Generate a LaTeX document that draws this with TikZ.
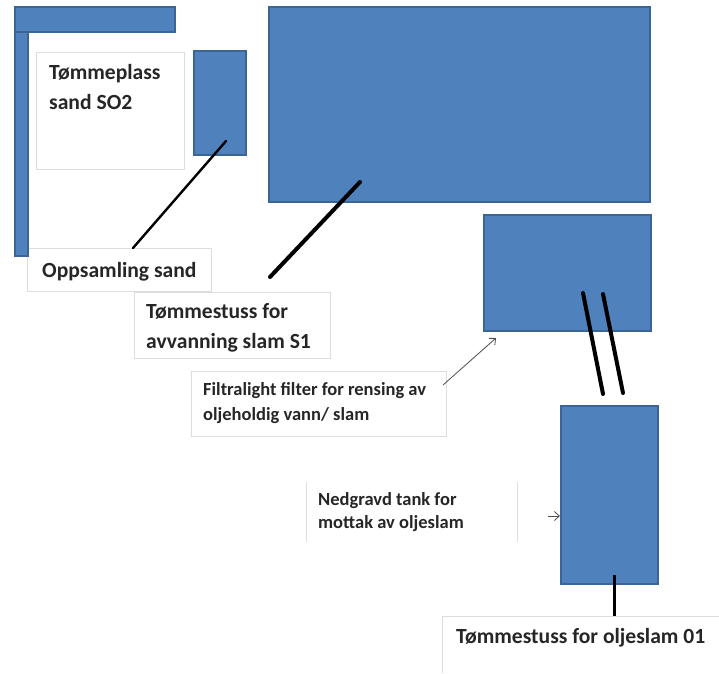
\documentclass[tikz,border=0pt]{standalone}
\usepackage{fontspec}
\setmainfont{Carlito}
\usetikzlibrary{arrows.meta}
\definecolor{boxblue}{HTML}{4F81BD}
\definecolor{boxedge}{HTML}{3A6596}
\definecolor{lbledge}{HTML}{DDDDDD}
\begin{document}
\begin{tikzpicture}[x=1pt,y=-1pt,
  bluebox/.style={draw=boxedge,fill=boxblue,line width=1.6pt,inner sep=0pt,outer sep=0pt,anchor=north west},
  lblbox/.style={draw=lbledge,line width=0.6pt,inner sep=0pt,outer sep=0pt,anchor=north west},
  bigtxt/.style={anchor=base west,inner sep=0pt,font=\bfseries\fontsize{21.6}{30}\selectfont,text=black!85},
  smalltxt/.style={anchor=base west,inner sep=0pt,font=\bfseries\fontsize{18.5}{23}\selectfont,text=black!85},
  pipe/.style={line width=#1,line cap=round,black},
  thinarrow/.style={draw=black!70,line width=0.8pt,-{Straight Barb[length=5pt,width=9pt]}}
]
\useasboundingbox (0,0) rectangle (719,673);
% label boxes
\node[lblbox,minimum width=148pt,minimum height=117pt] (bsand) at (36,52) {};
\node[lblbox,minimum width=184pt,minimum height=43pt] (bopps) at (27,248) {};
\node[lblbox,minimum width=196pt,minimum height=66pt] (bavv) at (134,292) {};
\node[lblbox,minimum width=255pt,minimum height=65pt] (bfilt) at (191,371) {};
\draw[lbledge,line width=0.6pt] (306,482) -- (306,542) (517,482) -- (517,542);
\draw[lbledge,line width=0.6pt] (442,673) -- (442,616) -- (719,616);
% blue shapes
\node[bluebox,minimum width=160pt,minimum height=25pt] (topbar) at (15,7) {};
\node[bluebox,minimum width=13pt,minimum height=224pt] (sidebar) at (15,32) {};
\node[bluebox,minimum width=52pt,minimum height=104pt] (sandbox) at (194,51) {};
\node[bluebox,minimum width=381pt,minimum height=195pt] (big) at (269,7) {};
\node[bluebox,minimum width=167pt,minimum height=116pt] (filter) at (484,215) {};
\node[bluebox,minimum width=97pt,minimum height=178pt] (tank) at (561,406) {};
% texts
\node[bigtxt] (t1a) at (49,79) {Tømmeplass};
\node[bigtxt] (t1b) at (49,109) {sand SO2};
\node[bigtxt] (t2) at (42,277) {Oppsamling sand};
\node[bigtxt] (t3a) at (146,318) {Tømmestuss for};
\node[bigtxt] (t3b) at (146,348) {avvanning slam S1};
\node[smalltxt] (t4a) at (203,395) {Filtralight filter for rensing av};
\node[smalltxt] (t4b) at (203,420) {oljeholdig vann/ slam};
\node[smalltxt] (t5a) at (318,505) {Nedgravd tank for};
\node[smalltxt] (t5b) at (318,528) {mottak av oljeslam};
\node[bigtxt] (t6) at (456,643) {Tømmestuss for oljeslam 01};
% connector ends
\coordinate (c1a) at (226,141); \coordinate (c1b) at (133,248);
\coordinate (c2a) at (360,182); \coordinate (c2b) at (270,277);
\coordinate (c3a) at (443,385); \coordinate (c3b) at (496,338);
\coordinate (p1a) at (583,293); \coordinate (p1b) at (603,394);
\coordinate (p2a) at (603,294); \coordinate (p2b) at (623,393);
\coordinate (c4a) at (548,516); \coordinate (c4b) at (560,516);
\coordinate (c5a) at (614,575); \coordinate (c5b) at (614,616);
% connectors
\draw[pipe=2.4pt] (c1a) -- (c1b);
\draw[pipe=4pt] (c2a) -- (c2b);
\draw[thinarrow] (c3a) -- (c3b);
\draw[pipe=4pt] (p1a) -- (p1b);
\draw[pipe=4pt] (p2a) -- (p2b);
\draw[thinarrow] (c4a) -- (c4b);
\draw[pipe=3pt,line cap=butt] (c5a) -- (c5b);
\end{tikzpicture}
\end{document}
